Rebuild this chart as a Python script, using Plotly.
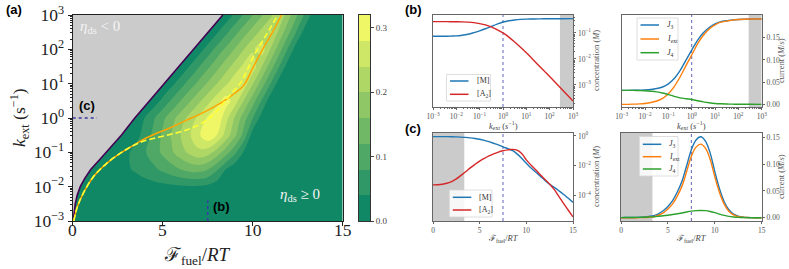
import plotly.graph_objects as go

W, H = 789, 269
def px(x): return x / W
def py(y): return 1 - y / H

SERIF = "Liberation Serif"
SANS = "Liberation Sans"

# ---------------- panel (a) data ----------------
fuel_grid = [i * 0.5 for i in range(31)]
logk_grid = [-3, -2.5, -2, -1.5, -1, -0.5, 0, 0.5, 1, 1.5, 2, 2.5, 3]
eff_rows = [
    [0.01] * 31,
    [0.01] * 31,
    [0.01] * 5 + [0.012, 0.015, 0.018, 0.022, 0.025, 0.028, 0.031, 0.034, 0.036, 0.035, 0.03, 0.018] + [0.01] * 14,
    [0, 0, 0.005, 0.01, 0.015, 0.025, 0.035, 0.045, 0.058, 0.072, 0.088, 0.104, 0.12, 0.132, 0.135, 0.12, 0.085, 0.04, 0.012] + [0.01] * 12,
    [0, 0, 0, 0, 0.01, 0.02, 0.033, 0.053, 0.076, 0.1, 0.128, 0.155, 0.183, 0.21, 0.23, 0.218, 0.184, 0.14, 0.09, 0.035] + [0.01] * 11,
    [0] * 6 + [0.01, 0.025, 0.055, 0.091, 0.127, 0.164, 0.2, 0.236, 0.273, 0.31, 0.28, 0.225, 0.17, 0.105, 0.02] + [0.01] * 10,
    [0] * 7 + [0.004, 0.04, 0.075, 0.11, 0.145, 0.18, 0.215, 0.25, 0.285, 0.315, 0.255, 0.197, 0.139, 0.081, 0.023] + [0.01] * 9,
    [0] * 9 + [0.016, 0.051, 0.086, 0.121, 0.156, 0.191, 0.226, 0.262, 0.3, 0.261, 0.199, 0.138, 0.077, 0.015] + [0.01] * 8,
    [0] * 11 + [0.029, 0.063, 0.097, 0.131, 0.165, 0.199, 0.233, 0.268, 0.265, 0.203, 0.14, 0.078, 0.015] + [0.01] * 7,
    [0] * 12 + [0.007, 0.042, 0.077, 0.111, 0.146, 0.181, 0.216, 0.25, 0.263, 0.201, 0.139, 0.077, 0.015] + [0.01] * 6,
    [0] * 14 + [0.021, 0.056, 0.092, 0.127, 0.163, 0.199, 0.234, 0.26, 0.197, 0.134, 0.071, 0.01] + [0.01] * 5,
    [0] * 16 + [0.034, 0.07, 0.106, 0.142, 0.178, 0.212, 0.245, 0.186, 0.128, 0.069, 0.011] + [0.01] * 4,
    [0] * 17 + [0.012, 0.047, 0.083, 0.119, 0.155, 0.191, 0.23, 0.174, 0.118, 0.062, 0.01, 0.01, 0.01, 0.01],
]
level_edges = [0.0, 0.04, 0.08, 0.12, 0.16, 0.20, 0.24, 0.28, 0.32]

boundary_logk = [-3, -2.75, -2.5, -2.25, -2, -1.75, -1.5, -1.25, -1, -0.75, -0.5, -0.25, 0, 0.5, 1, 1.5, 2, 2.5, 3]
boundary_fuel = [0.03, 0.07, 0.14, 0.25, 0.42, 0.68, 1.0, 1.43, 1.85, 2.3, 2.7, 3.08, 3.45, 4.27, 5.08, 5.9, 6.71, 7.53, 8.34]

orange_fuel = [0.06, 0.25, 0.59, 1.15, 1.89, 2.63, 3.3, 3.9, 4.6, 5.4, 6.3, 7.1, 7.8, 8.5, 9.0, 9.5, 10.0, 10.55, 11.1, 11.6]
orange_logk = [-3, -2.6, -2.19, -1.71, -1.32, -1.03, -0.82, -0.63, -0.46, -0.29, -0.07, 0.12, 0.31, 0.53, 0.72, 0.95, 1.45, 2.0, 2.5, 3.0]

dash_fuel = [0.06, 0.25, 0.59, 1.15, 1.89, 2.63, 3.3, 3.9, 4.6, 5.4, 6.2, 7.0, 7.6, 8.0, 8.4, 8.75, 9.3, 9.7, 10.1, 10.5, 10.9, 11.4]
dash_logk = [-3, -2.6, -2.19, -1.71, -1.32, -1.03, -0.82, -0.68, -0.58, -0.48, -0.37, -0.2, 0.0, 0.2, 0.45, 0.68, 1.0, 1.4, 1.85, 2.2, 2.55, 3.0]

cut_c_fuel = [0, 1.35]      # dotted marker for cut (c): k = 1
cut_b_logk = [-3, -2.4]     # dotted marker for cut (b): F = 7.5
cut_b_fuel = 7.5
cut_c_k = 1.0

# ---------------- panel (b) data ----------------
b_logk = [-3, -2.75, -2.5, -2.25, -2, -1.75, -1.5, -1.25, -1, -0.75, -0.5, -0.25, 0,
          0.25, 0.5, 0.75, 1, 1.25, 1.5, 1.75, 2, 2.5, 3]
b_M_log = [-1.13, -1.13, -1.128, -1.122, -1.115, -1.09, -1.05, -0.99, -0.92, -0.84, -0.75, -0.66, -0.58,
           -0.53, -0.5, -0.48, -0.47, -0.465, -0.46, -0.457, -0.455, -0.452, -0.45]
b_A2_log = [-0.565, -0.565, -0.565, -0.567, -0.57, -0.575, -0.585, -0.605, -0.64, -0.69, -0.77, -0.88, -1.0,
            -1.16, -1.35, -1.55, -1.76, -1.99, -2.22, -2.45, -2.68, -3.15, -3.62]
b_J3 = [0.0315, 0.0315, 0.0317, 0.032, 0.0325, 0.0335, 0.0355, 0.039, 0.046, 0.058, 0.076, 0.099, 0.122,
        0.144, 0.161, 0.173, 0.181, 0.186, 0.188, 0.19, 0.191, 0.192, 0.192]
b_J4 = [0.0315, 0.0315, 0.0313, 0.031, 0.0305, 0.0295, 0.028, 0.0255, 0.022, 0.018, 0.0145, 0.0125, 0.011,
        0.008, 0.0055, 0.0035, 0.002, 0.0012, 0.0007, 0.0004, 0.0002, 0.0001, 0.0]
b_Iext = [0.0, 0.0, 0.0004, 0.001, 0.002, 0.004, 0.0075, 0.0135, 0.024, 0.04, 0.0615, 0.0865, 0.111,
          0.136, 0.1555, 0.1695, 0.179, 0.1848, 0.1873, 0.1896, 0.1908, 0.1919, 0.192]
b_gray_logk = 2.44

# ---------------- panel (c) data ----------------
c_fuel = [i * 0.5 for i in range(31)]
c_M_log = [-0.045, -0.045, -0.045, -0.046, -0.05, -0.06, -0.075, -0.095, -0.125, -0.165, -0.215, -0.29,
           -0.38, -0.49, -0.6, -0.73, -0.85, -0.97, -1.2, -1.5, -1.83, -2.15, -2.42, -2.7, -2.98, -3.24,
           -3.45, -3.68, -3.92, -4.18, -4.45]
c_A2_log = [-3.28, -3.27, -3.24, -3.17, -3.06, -2.88, -2.64, -2.4, -2.14, -1.9, -1.68, -1.5, -1.34, -1.2,
            -1.08, -0.99, -0.93, -0.9, -0.95, -1.17, -1.6, -1.95, -2.27, -2.6, -2.92, -3.23, -3.6, -4.07,
            -4.53, -4.98, -5.43]
c_J3 = [0.0003, 0.0004, 0.0005, 0.0007, 0.001, 0.0015, 0.0025, 0.004, 0.0075, 0.013, 0.021, 0.032, 0.048,
        0.068, 0.097, 0.127, 0.145, 0.151, 0.143, 0.121, 0.086, 0.054, 0.03, 0.015, 0.007, 0.003, 0.0013,
        0.0006, 0.0003, 0.0001, 0.0]
c_J4 = [0.0003, 0.0004, 0.0005, 0.0006, 0.0008, 0.001, 0.0015, 0.002, 0.0028, 0.0037, 0.0048, 0.006, 0.0075,
        0.009, 0.0108, 0.0123, 0.0133, 0.0137, 0.0133, 0.0118, 0.0095, 0.0068, 0.0045, 0.0027, 0.0015,
        0.0008, 0.0004, 0.0002, 0.0001, 0.0, 0.0]
c_Iext = [0.0, 0.0, 0.0, 0.0001, 0.0002, 0.0005, 0.001, 0.002, 0.0047, 0.0093, 0.0162, 0.026, 0.0405,
          0.059, 0.0862, 0.1147, 0.1317, 0.1373, 0.1297, 0.1092, 0.0765, 0.0472, 0.0255, 0.0123, 0.0055,
          0.0022, 0.0009, 0.0004, 0.0002, 0.0001, 0.0]
c_gray_fuel = 3.35

BLUE, ORANGE, GREEN, RED = "#1f77b4", "#ff7f0e", "#2ca02c", "#d62728"
GRAY = "#cbcbcb"
CUT = "#3a3aa8"

band_colors = ['#108866', '#309866', '#50a866', '#70b766', '#8fc766', '#afd766', '#cfe766', '#eff766']
cscale = [[i / 7, c] for i, c in enumerate(band_colors)]

fig = go.Figure()

# ---- panel (a)
fig.add_trace(go.Contour(
    x=fuel_grid, y=[10 ** v for v in logk_grid], z=eff_rows,
    xaxis="x", yaxis="y", colorscale=cscale, showscale=False,
    contours=dict(start=level_edges[1], end=level_edges[-2], size=level_edges[1] - level_edges[0],
                  coloring="fill", showlines=False),
    line=dict(width=0, smoothing=1.0),
    showlegend=False, hoverinfo="skip"))

# colour bar drawn as a banded heatmap on its own axis
band_mid = [(a + b) / 2 for a, b in zip(level_edges[:-1], level_edges[1:])]
fig.add_trace(go.Heatmap(x=[0], y=band_mid, z=[[v] for v in band_mid], colorscale=cscale,
                         zmin=band_mid[0], zmax=band_mid[-1], showscale=False,
                         xaxis="x6", yaxis="y6", hoverinfo="skip"))

fig.add_trace(go.Scatter(
    x=[0] + boundary_fuel + [0], y=[1e-3] + [10 ** v for v in boundary_logk] + [1e3],
    xaxis="x", yaxis="y", mode="lines", fill="toself", fillcolor=GRAY,
    line=dict(width=0), showlegend=False, hoverinfo="skip"))
fig.add_trace(go.Scatter(
    x=boundary_fuel, y=[10 ** v for v in boundary_logk], xaxis="x", yaxis="y",
    mode="lines", line=dict(color="#440154", width=1.6), showlegend=False))
fig.add_trace(go.Scatter(
    x=orange_fuel, y=[10 ** v for v in orange_logk], xaxis="x", yaxis="y",
    mode="lines", line=dict(color="#ffa500", width=1.5, shape="spline"), showlegend=False))
fig.add_trace(go.Scatter(
    x=dash_fuel, y=[10 ** v for v in dash_logk], xaxis="x", yaxis="y",
    mode="lines", line=dict(color="#ffff33", width=1.6, dash="6px,3px", shape="spline"), showlegend=False))
fig.add_trace(go.Scatter(
    x=cut_c_fuel, y=[cut_c_k, cut_c_k], xaxis="x", yaxis="y",
    mode="lines", line=dict(color=CUT, width=1.5, dash="dot"), showlegend=False))
fig.add_trace(go.Scatter(
    x=[cut_b_fuel, cut_b_fuel], y=[10 ** v for v in cut_b_logk], xaxis="x", yaxis="y",
    mode="lines", line=dict(color=CUT, width=1.5, dash="dot"), showlegend=False))

# ---- panel (b) left
bk = [10 ** v for v in b_logk]
b_ylo, b_yhi = 10 ** -3.85, 10 ** -0.31
fig.add_trace(go.Scatter(x=[10 ** b_gray_logk, 1e3, 1e3, 10 ** b_gray_logk],
                         y=[b_ylo, b_ylo, b_yhi, b_yhi], xaxis="x2", yaxis="y2", mode="lines",
                         fill="toself", fillcolor=GRAY, line=dict(width=0), showlegend=False))
fig.add_trace(go.Scatter(x=[1, 1], y=[b_ylo, b_yhi], xaxis="x2", yaxis="y2", mode="lines",
                         line=dict(color=CUT, width=0.8, dash="dot"), showlegend=False))
fig.add_trace(go.Scatter(x=bk, y=[10 ** v for v in b_M_log], xaxis="x2", yaxis="y2", mode="lines",
                         line=dict(color=BLUE, width=1.4, shape="spline"), name="[M]", showlegend=False))
fig.add_trace(go.Scatter(x=bk, y=[10 ** v for v in b_A2_log], xaxis="x2", yaxis="y2", mode="lines",
                         line=dict(color=RED, width=1.4, shape="spline"), name="[A2]", showlegend=False))

# ---- panel (b) right
fig.add_trace(go.Scatter(x=[10 ** b_gray_logk, 1e3, 1e3, 10 ** b_gray_logk],
                         y=[-0.006, -0.006, 0.201, 0.201], xaxis="x3", yaxis="y3", mode="lines",
                         fill="toself", fillcolor=GRAY, line=dict(width=0), showlegend=False))
fig.add_trace(go.Scatter(x=[1, 1], y=[-0.006, 0.201], xaxis="x3", yaxis="y3", mode="lines",
                         line=dict(color=CUT, width=0.8, dash="dot"), showlegend=False))
fig.add_trace(go.Scatter(x=bk, y=b_J3, xaxis="x3", yaxis="y3", mode="lines",
                         line=dict(color=BLUE, width=1.4, shape="spline"), name="J3", showlegend=False))
fig.add_trace(go.Scatter(x=bk, y=b_Iext, xaxis="x3", yaxis="y3", mode="lines",
                         line=dict(color=ORANGE, width=1.4, shape="spline"), name="Iext", showlegend=False))
fig.add_trace(go.Scatter(x=bk, y=b_J4, xaxis="x3", yaxis="y3", mode="lines",
                         line=dict(color=GREEN, width=1.4, shape="spline"), name="J4", showlegend=False))

# ---- panel (c) left
c_ylo, c_yhi = 10 ** -5.7, 10 ** 0.2
fig.add_trace(go.Scatter(x=[0, c_gray_fuel, c_gray_fuel, 0], y=[c_ylo, c_ylo, c_yhi, c_yhi],
                         xaxis="x4", yaxis="y4", mode="lines", fill="toself", fillcolor=GRAY,
                         line=dict(width=0), showlegend=False))
fig.add_trace(go.Scatter(x=[cut_b_fuel, cut_b_fuel], y=[c_ylo, c_yhi], xaxis="x4", yaxis="y4", mode="lines",
                         line=dict(color=CUT, width=0.8, dash="dot"), showlegend=False))
fig.add_trace(go.Scatter(x=c_fuel, y=[10 ** v for v in c_M_log], xaxis="x4", yaxis="y4", mode="lines",
                         line=dict(color=BLUE, width=1.4, shape="spline"), name="[M]", showlegend=False))
fig.add_trace(go.Scatter(x=c_fuel, y=[10 ** v for v in c_A2_log], xaxis="x4", yaxis="y4", mode="lines",
                         line=dict(color=RED, width=1.4, shape="spline"), name="[A2]", showlegend=False))

# ---- panel (c) right
fig.add_trace(go.Scatter(x=[0, c_gray_fuel, c_gray_fuel, 0], y=[-0.006, -0.006, 0.158, 0.158],
                         xaxis="x5", yaxis="y5", mode="lines", fill="toself", fillcolor=GRAY,
                         line=dict(width=0), showlegend=False))
fig.add_trace(go.Scatter(x=[cut_b_fuel, cut_b_fuel], y=[-0.006, 0.158], xaxis="x5", yaxis="y5", mode="lines",
                         line=dict(color=CUT, width=0.8, dash="dot"), showlegend=False))
fig.add_trace(go.Scatter(x=c_fuel, y=c_J3, xaxis="x5", yaxis="y5", mode="lines",
                         line=dict(color=BLUE, width=1.4, shape="spline"), name="J3", showlegend=False))
fig.add_trace(go.Scatter(x=c_fuel, y=c_Iext, xaxis="x5", yaxis="y5", mode="lines",
                         line=dict(color=ORANGE, width=1.4, shape="spline"), name="Iext", showlegend=False))
fig.add_trace(go.Scatter(x=c_fuel, y=c_J4, xaxis="x5", yaxis="y5", mode="lines",
                         line=dict(color=GREEN, width=1.4, shape="spline"), name="J4", showlegend=False))

# ---------------- axes ----------------
def sup(e):
    return "10<sup>" + (str(e) if e >= 0 else "\u2212" + str(-e)) + "</sup>"

minor_vals = [m * 10.0 ** e for e in range(-6, 3) for m in range(2, 10)]
a_xticks = [0, 5, 10, 15]

big_tick = dict(size=17.5, family=SERIF, color="#222")
small_tick = dict(size=7.5, family=SERIF, color="#555")

def frame(color="#222", width=1):
    return dict(showline=True, mirror=True, linecolor=color, linewidth=width, showgrid=False,
                zeroline=False, ticks="outside", tickcolor=color, automargin=False)

layout = dict(
    template="none",
    width=W, height=H, margin=dict(l=0, r=0, t=0, b=0, autoexpand=False),
    paper_bgcolor="white", plot_bgcolor="white", showlegend=False,
    xaxis=dict(domain=[px(72.7), px(342.7)], range=[0, 15], tickvals=a_xticks, showticklabels=False,
               ticklen=4, anchor="y", **frame()),
    yaxis=dict(domain=[py(221), py(15)], type="log", range=[-3, 3],
               tickvals=[10 ** e for e in range(-3, 4)], ticktext=[sup(e) for e in range(-3, 4)],
               ticklen=4, tickfont=big_tick, anchor="x",
               minor=dict(tickvals=[v for v in minor_vals if 1e-3 < v < 1e3], ticks="outside", ticklen=2,
                          tickcolor="#222"), **frame()),
    xaxis6=dict(domain=[px(359), px(370)], anchor="y6", range=[-0.5, 0.5], showticklabels=False,
                showline=True, mirror=True, linecolor="#333", linewidth=0.8, ticks="", showgrid=False,
                zeroline=False, automargin=False),
    yaxis6=dict(domain=[py(221), py(15)], anchor="x6", side="right",
                range=[level_edges[0], level_edges[-1]],
                tickvals=[0, 0.1, 0.2, 0.3], ticktext=["0.0", "0.1", "0.2", "0.3"],
                ticks="outside", ticklen=3, tickcolor="#444", showline=True, mirror=True,
                linecolor="#333", linewidth=0.8, showgrid=False, zeroline=False, automargin=False,
                tickfont=dict(size=9, family=SERIF, color="#444")),
)

for i, (xd, yd) in zip([2, 3, 4, 5], [((433, 573), (107, 15)), ((621.7, 761.7), (107, 15)),
                                       ((433, 573), (221, 133)), ((621, 761.7), (221, 133))]):
    xa = dict(domain=[px(xd[0]), px(xd[1])], anchor="y%d" % i, tickfont=small_tick, ticklen=2.5,
              **frame("#666", 0.8))
    if i in (2, 3):
        xa.update(type="log", range=[-3, 3], tickvals=[10 ** e for e in range(-3, 4)],
                  ticktext=[sup(e) for e in range(-3, 4)],
                  minor=dict(tickvals=[v for v in minor_vals if 1e-3 < v < 1e3], ticks="outside",
                             ticklen=1.5, tickcolor="#666"))
    else:
        xa.update(range=[0, 15], tickvals=[0, 5, 10, 15])
    ya = dict(domain=[py(yd[0]), py(yd[1])], anchor="x%d" % i, side="right", tickfont=small_tick,
              ticklen=2.5, **frame("#666", 0.8))
    if i == 2:
        ya.update(type="log", range=[-3.85, -0.31], tickvals=[1e-3, 1e-2, 1e-1],
                  ticktext=[sup(-3), sup(-2), sup(-1)],
                  minor=dict(tickvals=[v for v in minor_vals if 10 ** -3.85 < v < 10 ** -0.31],
                             ticks="outside", ticklen=1.5, tickcolor="#666"))
    elif i == 4:
        ya.update(type="log", range=[-5.7, 0.2], tickvals=[1e-4, 1e-2, 1],
                  ticktext=[sup(-4), sup(-2), sup(0)])
    elif i == 3:
        ya.update(range=[-0.006, 0.201], tickvals=[0, 0.05, 0.1, 0.15],
                  ticktext=["0.00", "0.05", "0.10", "0.15"])
    else:
        ya.update(range=[-0.006, 0.158], tickvals=[0, 0.05, 0.1, 0.15],
                  ticktext=["0.00", "0.05", "0.10", "0.15"])
    layout["xaxis%d" % i] = xa
    layout["yaxis%d" % i] = ya

fig.update_layout(**layout)

def ann(x, y, text, size, family=SERIF, color="#222", angle=0, xanchor="center", yanchor="middle"):
    fig.add_annotation(x=px(x), y=py(y), xref="paper", yref="paper", text=text, showarrow=False,
                       font=dict(size=size, family=family, color=color), textangle=angle,
                       xanchor=xanchor, yanchor=yanchor)

# x tick labels of panel (a), placed tight under the axis like the original
for v in a_xticks:
    fig.add_annotation(x=v, xref="x", y=py(230), yref="paper", text=str(v), showarrow=False,
                       font=big_tick, xanchor="center", yanchor="middle")

# ---- hand-drawn legend boxes (matplotlib style)
def legend_box(x0, y0, x1, y1, entries):
    fig.add_shape(type="rect", xref="paper", yref="paper", x0=px(x0), x1=px(x1), y0=py(y0), y1=py(y1),
                  fillcolor="rgba(255,255,255,0.85)", line=dict(color="#d5d5d5", width=0.8))
    for yy, col, label in entries:
        fig.add_shape(type="line", xref="paper", yref="paper", x0=px(x0 + 3.5), x1=px(x0 + 22),
                      y0=py(yy), y1=py(yy), line=dict(color=col, width=1.5))
        ann(x0 + 28, yy, label, 8, xanchor="left", color="#333")

legend_box(446.5, 74.5, 490.5, 101, [(81, BLUE, "[M]"), (94.3, RED, "[A<sub>2</sub>]")])
legend_box(637, 18, 678, 60, [(25, BLUE, "<i>J</i><sub>3</sub>"), (39, ORANGE, "<i>I</i><sub>ext</sub>"),
                              (52.7, GREEN, "<i>J</i><sub>4</sub>")])
legend_box(449.3, 190, 492, 217, [(197.3, BLUE, "[M]"), (210, RED, "[A<sub>2</sub>]")])
legend_box(639.3, 136.5, 678, 176, [(144.3, BLUE, "<i>J</i><sub>3</sub>"), (156.7, ORANGE, "<i>I</i><sub>ext</sub>"),
                                    (169, GREEN, "<i>J</i><sub>4</sub>")])

FT = "\u2131<sub>fuel</sub>/<i>RT</i>"
ann(198, 256, FT, 19)
ann(19, 118, "<i>k</i><sub>ext</sub> (s<sup>\u22121</sup>)", 17.5, angle=-90)
ann(503, 125, "<i>k</i><sub>ext</sub> (<i>s</i><sup>\u22121</sup>)", 8.5, color="#444")
ann(691.7, 125, "<i>k</i><sub>ext</sub> (<i>s</i><sup>\u22121</sup>)", 8.5, color="#444")
ann(503, 238, FT, 8.5, color="#444")
ann(691.5, 238, FT, 8.5, color="#444")
ann(596, 61, "concentration (<i>M</i>)", 8.5, angle=-90, color="#555")
ann(596, 177, "concentration (<i>M</i>)", 8.5, angle=-90, color="#555")
ann(781, 61, "current (<i>M</i>/<i>s</i>)", 8.5, angle=-90, color="#555")
ann(781, 177, "current (<i>M</i>/<i>s</i>)", 8.5, angle=-90, color="#555")

ann(4, 9, "<b>(a)</b>", 13, family=SANS, color="black", xanchor="left")
ann(403, 9, "<b>(b)</b>", 13, family=SANS, color="black", xanchor="left")
ann(403, 128, "<b>(c)</b>", 13, family=SANS, color="black", xanchor="left")
ann(77, 106, "<b>(c)</b>", 13, family=SANS, color="black", xanchor="left")
ann(211, 206, "<b>(b)</b>", 13, family=SANS, color="black", xanchor="left")
ann(78, 27, "<i>\u03b7</i><sub>ds</sub> &lt; 0", 15, color="#f4f4f4", xanchor="left")
ann(278, 195, "<i>\u03b7</i><sub>ds</sub> \u2265 0", 15, color="#f4f4f4", xanchor="left")

fig.write_html("out.html", config={"displayModeBar": False},
               post_script="document.body.style.margin='0px';document.body.style.overflow='hidden';")
